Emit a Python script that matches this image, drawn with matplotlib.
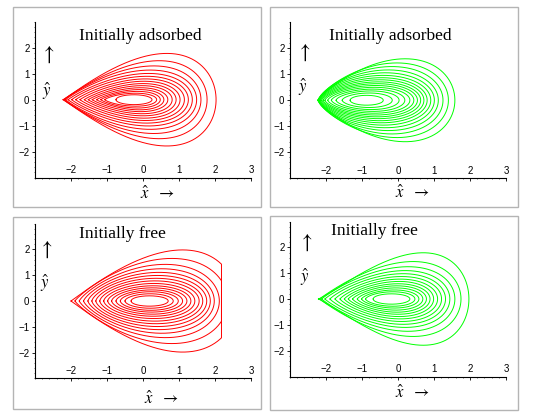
import numpy as np
import matplotlib.pyplot as plt
from matplotlib.patches import Rectangle
from matplotlib.ticker import MultipleLocator

plt.rcParams['mathtext.fontset'] = 'stix'

# --- contour data (one entry per closed curve, inner -> outer)
# left tip, right end, half height and x of the widest point

# top left, red, initially adsorbed
p1_left = [-0.75, -1.06, -1.17, -1.29, -1.41, -1.52, -1.63, -1.75, -1.87, -1.98, -2.08, -2.15, -2.19, -2.21, -2.22]
p1_right = [0.25, 0.38, 0.48, 0.58, 0.69, 0.81, 0.92, 1.03, 1.15, 1.26, 1.37, 1.49, 1.61, 1.78, 2.03]
p1_height = [0.19, 0.25, 0.32, 0.39, 0.46, 0.54, 0.62, 0.71, 0.80, 0.90, 1.01, 1.14, 1.30, 1.50, 1.78]
p1_peak = [-0.25, -0.2, -0.15, -0.1, -0.07, -0.03, 0.0, 0.03, 0.07, 0.1, 0.15, 0.2, 0.3, 0.45, 0.66]

# top right, green, initially adsorbed
p2_left = [-1.33, -1.55, -1.72, -1.85, -1.95, -2.03, -2.08, -2.12, -2.15, -2.17, -2.19, -2.20, -2.21, -2.22, -2.22, -2.23]
p2_right = [-0.41, -0.16, 0.03, 0.19, 0.33, 0.44, 0.54, 0.63, 0.72, 0.81, 0.91, 1.01, 1.12, 1.25, 1.40, 1.58]
p2_height = [0.19, 0.28, 0.36, 0.43, 0.50, 0.57, 0.64, 0.71, 0.79, 0.87, 0.96, 1.06, 1.17, 1.30, 1.44, 1.60]
p2_peak = [-0.87, -0.8, -0.75, -0.7, -0.66, -0.62, -0.58, -0.54, -0.5, -0.46, -0.41, -0.35, -0.27, -0.17, -0.03, 0.2]

# bottom left, red, initially free (outer curves cut off at the right)
p3_left = [-0.33, -0.50, -0.63, -0.75, -0.87, -0.98, -1.09, -1.20, -1.31, -1.42, -1.53, -1.65, -1.77, -1.89, -2.0]
p3_right = [0.70, 0.84, 0.98, 1.10, 1.22, 1.33, 1.44, 1.56, 1.66, 1.77, 1.87, 1.98, 2.12, 2.35, 2.60]
p3_height = [0.20, 0.28, 0.36, 0.43, 0.51, 0.59, 0.68, 0.78, 0.88, 0.99, 1.11, 1.25, 1.42, 1.65, 1.98]
p3_peak = [0.18, 0.2, 0.22, 0.24, 0.26, 0.28, 0.3, 0.33, 0.36, 0.4, 0.45, 0.52, 0.62, 0.8, 1.1]
p3_cut = 2.18

# bottom right, green, initially free
p4_left = [-0.69, -0.90, -1.01, -1.13, -1.26, -1.38, -1.49, -1.61, -1.75, -1.89, -2.03, -2.12, -2.18, -2.21]
p4_right = [0.33, 0.47, 0.58, 0.69, 0.79, 0.89, 0.99, 1.10, 1.21, 1.32, 1.44, 1.58, 1.75, 1.97]
p4_height = [0.20, 0.28, 0.35, 0.43, 0.51, 0.59, 0.68, 0.77, 0.87, 0.98, 1.10, 1.25, 1.45, 1.79]
p4_peak = [-0.18, -0.14, -0.1, -0.06, -0.03, 0.0, 0.03, 0.06, 0.1, 0.14, 0.2, 0.28, 0.42, 0.7]

titles = ['Initially adsorbed', 'Initially adsorbed', 'Initially free', 'Initially free']
x_ticks = [-2, -1, 0, 1, 2, 3]
y_ticks = [-2, -1, 0, 1, 2]

W, H = 545, 413
fig = plt.figure(figsize=(5.45, 4.13), dpi=100)


def fx(px):
    return px / W


def fy(py):
    return 1 - py / H


def teardrop(L, R, h, peak, n=600):
    # closed curve, pointed at L, round at R, widest at x=peak
    t = np.linspace(0, 1, n)
    s = (1 - np.cos(np.pi * t)) / 2
    sp = (peak - L) / (R - L)
    p = 0.5 * sp / (1 - sp)
    f = s ** p * np.sqrt(1 - s)
    f = f / f.max()
    x = L + (R - L) * s
    y = h * f
    return np.concatenate([x, x[::-1]]), np.concatenate([y, -y[::-1]])


# panel layout in pixels: box (l, t, r, b), axes (l, t, r, b), title centre, label spots
panels = [
    dict(box=(13, 7, 261, 207), ax=(35, 21.7, 251, 177.7), title=(140, 36),
         up=(47, 55), yhat=(47, 91), xhat=(140, 194),
         data=(p1_left, p1_right, p1_height, p1_peak), color='#ff0000', cut=None),
    dict(box=(270, 7, 518, 207), ax=(290, 22.5, 506, 178), title=(390, 36),
         up=(303, 53), yhat=(303, 87), xhat=(395, 193),
         data=(p2_left, p2_right, p2_height, p2_peak), color='#00ff00', cut=None),
    dict(box=(13, 217, 261, 409), ax=(35, 223.6, 251, 378.4), title=(122, 234),
         up=(45, 250), yhat=(45, 283), xhat=(144, 399),
         data=(p3_left, p3_right, p3_height, p3_peak), color='#ff0000', cut=p3_cut),
    dict(box=(270, 216, 518, 410), ax=(290, 221.5, 506, 376.5), title=(374, 231),
         up=(305, 243), yhat=(305, 277), xhat=(395, 393),
         data=(p4_left, p4_right, p4_height, p4_peak), color='#00ff00', cut=None),
]

for i, pn in enumerate(panels):
    bl, bt, br, bb = pn['box']
    fig.patches.append(Rectangle((fx(bl), fy(bb)), (br - bl) / W, (bb - bt) / H,
                                 transform=fig.transFigure, fill=False,
                                 edgecolor='#b4b4b4', lw=1.0))
    al, at, ar, ab = pn['ax']
    ax = fig.add_axes([fx(al), fy(ab), (ar - al) / W, (ab - at) / H])
    ax.patch.set_alpha(0)

    lefts, rights, heights, peaks = pn['data']
    for L, R, h, pk in zip(lefts, rights, heights, peaks):
        x, y = teardrop(L, R, h, pk)
        if pn['cut'] is not None:
            x = np.minimum(x, pn['cut'])
        ax.plot(x, y, color=pn['color'], lw=0.7)

    ax.set_xlim(-3, 3)
    ax.set_ylim(-3, 3)
    for s in ['top', 'right']:
        ax.spines[s].set_visible(False)
    for s in ['left', 'bottom']:
        ax.spines[s].set_linewidth(0.8)
    ax.set_xticks(x_ticks)
    ax.set_yticks(y_ticks)
    ax.xaxis.set_minor_locator(MultipleLocator(0.2))
    ax.yaxis.set_minor_locator(MultipleLocator(0.2))
    ax.tick_params(which='major', direction='out', length=2.5, width=0.6,
                   labelsize=7, labelfontfamily='Liberation Sans')
    ax.tick_params(which='minor', direction='out', length=1.0, width=0.4)
    ax.tick_params(axis='x', which='major', pad=-11.5)
    ax.tick_params(axis='y', which='major', pad=1.5)

    fig.text(fx(pn['title'][0]), fy(pn['title'][1]), titles[i], ha='center', va='center',
             fontsize=12.5, family='Liberation Serif')
    fig.text(fx(pn['up'][0]), fy(pn['up'][1]), '$\\uparrow$', ha='center', va='center',
             fontsize=15)
    fig.text(fx(pn['yhat'][0]), fy(pn['yhat'][1]), '$\\hat{y}$', ha='center', va='center',
             fontsize=12)
    fig.text(fx(pn['xhat'][0]), fy(pn['xhat'][1]), '$\\hat{x}\\ \\ \\rightarrow$', ha='left',
             va='center', fontsize=12)

fig.savefig('out.png', dpi=100)
